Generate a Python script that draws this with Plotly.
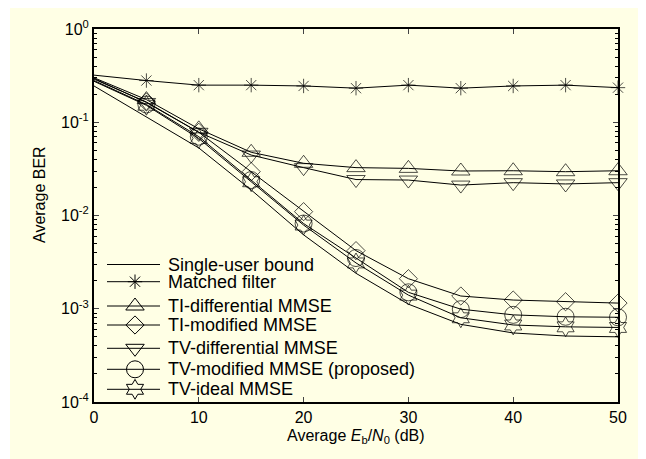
import plotly.graph_objects as go

snr = [0, 5, 10, 15, 20, 25, 30, 35, 40, 45, 50]

single_user = [0.245, 0.115, 0.053, 0.0188, 0.0062, 0.0024, 0.00112, 0.00068, 0.00055, 0.00051, 0.0005]
matched = [0.32, 0.28, 0.25, 0.25, 0.245, 0.232, 0.25, 0.232, 0.245, 0.25, 0.235]
ti_diff = [0.30, 0.175, 0.085, 0.0476, 0.0363, 0.0326, 0.032, 0.030, 0.0302, 0.0295, 0.0302]
ti_mod = [0.29, 0.165, 0.078, 0.0295, 0.011, 0.0042, 0.0021, 0.00137, 0.00124, 0.00119, 0.00115]
tv_diff = [0.295, 0.163, 0.078, 0.0445, 0.0326, 0.0243, 0.024, 0.0212, 0.0225, 0.0218, 0.0225]
tv_mod = [0.28, 0.155, 0.07, 0.024, 0.0082, 0.0035, 0.0015, 0.00099, 0.00086, 0.00082, 0.00081]
tv_ideal = [0.275, 0.152, 0.067, 0.023, 0.0079, 0.0031, 0.0014, 0.00080, 0.00067, 0.00064, 0.00063]

names = ["Single-user bound", "Matched filter", "TI-differential MMSE", "TI-modified MMSE",
         "TV-differential MMSE", "TV-modified MMSE (proposed)", "TV-ideal MMSE"]
series = [single_user, matched, ti_diff, ti_mod, tv_diff, tv_mod, tv_ideal]
symbols = [None, "asterisk-open", "triangle-up-open", "diamond-open",
           "triangle-down-open", "circle-open", "hexagram-open"]
sizes = [0, 12, 16, 14, 16, 17, 15]

y_ticks = [1e-4, 1e-3, 1e-2, 1e-1, 1]
y_ticktext = ["10<sup>-4</sup>", "10<sup>-3</sup>", "10<sup>-2</sup>", "10<sup>-1</sup>", "10<sup>0</sup>"]
x_ticks = [0, 10, 20, 30, 40, 50]

BG = "#FFFFE5"
FONT = "Liberation Sans, Arial, sans-serif"

# figure pixel geometry (page body adds an 8px offset)
W, H = 638, 451
L, R, T, B = 86, 28, 21, 57
pw, ph = W - L - R, H - T - B

def px_x(px):
    return (px - L) / pw

def px_y(py):
    return (H - B - py) / ph

fig = go.Figure()
for name, vals, sym, sz in zip(names, series, symbols, sizes):
    if sym is None:
        fig.add_trace(go.Scatter(x=snr, y=vals, mode="lines", name=name, showlegend=False,
                                 line=dict(color="black", width=1)))
    else:
        msz = [0] + [sz] * (len(snr) - 1)
        fig.add_trace(go.Scatter(x=snr, y=vals, mode="lines+markers", name=name,
                                 showlegend=False, cliponaxis=False,
                                 line=dict(color="black", width=1),
                                 marker=dict(symbol=sym, size=msz, color="black",
                                             line=dict(color="black", width=1))))

# custom legend drawn on an overlay pixel axis
legend_y_px = [256.5, 273.7, 298, 317, 340.3, 361.3, 381.3]
leg_x0, leg_x1, leg_xm, leg_xt = 99, 152, 127, 158
annotations = []
for name, sym, sz, ly in zip(names, symbols, sizes, legend_y_px):
    fig.add_trace(go.Scatter(x=[leg_x0, leg_x1], y=[ly, ly], mode="lines", xaxis="x2", yaxis="y2",
                             showlegend=False, hoverinfo="skip",
                             line=dict(color="black", width=1)))
    if sym is not None:
        fig.add_trace(go.Scatter(x=[leg_xm], y=[ly], mode="markers", xaxis="x2", yaxis="y2",
                                 showlegend=False, hoverinfo="skip",
                                 marker=dict(symbol=sym, size=sz, color="black",
                                             line=dict(color="black", width=1))))
    annotations.append(dict(text=name, xref="x2", yref="y2", x=leg_xt, y=ly,
                            xanchor="left", yanchor="middle", showarrow=False,
                            font=dict(size=18)))

minor_vals = [m * 10 ** e for e in range(-4, 0) for m in range(2, 10)]

annotations += [
    dict(text="Average <i>E</i><sub>b</sub>/<i>N</i><sub>0</sub> (dB)",
         xref="paper", yref="paper", x=0.5, y=px_y(428), xanchor="center",
         yanchor="middle", showarrow=False, font=dict(size=16)),
    dict(text="Average BER", xref="paper", yref="paper", x=px_x(31), y=px_y(187),
         xanchor="center", yanchor="middle", textangle=-90, showarrow=False,
         font=dict(size=16)),
]

fig.update_layout(
    width=W, height=H,
    margin=dict(l=L, r=R, t=T, b=B, autoexpand=False),
    paper_bgcolor=BG, plot_bgcolor=BG,
    font=dict(family=FONT, size=16, color="black"),
    showlegend=False,
    xaxis=dict(range=[0, 50], tickvals=x_ticks, ticks="inside", ticklen=5,
               showline=True, linecolor="black", linewidth=2, mirror="ticks",
               showgrid=False, zeroline=False, tickfont=dict(size=16)),
    yaxis=dict(type="log", range=[-4, 0], tickvals=y_ticks, ticktext=y_ticktext,
               ticks="inside", ticklen=5, showline=True, linecolor="black",
               linewidth=2, mirror="ticks", showgrid=False, zeroline=False,
               tickfont=dict(size=16),
               minor=dict(tickvals=minor_vals, ticks="inside", ticklen=3,
                          tickcolor="black", showgrid=False)),
    xaxis2=dict(overlaying="x", range=[L, W - R], visible=False, anchor="y2"),
    yaxis2=dict(overlaying="y", range=[H - B, T], visible=False, anchor="x2"),
    annotations=annotations,
    shapes=[
        dict(type="rect", xref="paper", yref="paper", x0=px_x(0), x1=px_x(2),
             y0=px_y(H), y1=px_y(0), fillcolor="white", line=dict(width=0), layer="below"),
    ],
)

fig.write_html("out.html")
